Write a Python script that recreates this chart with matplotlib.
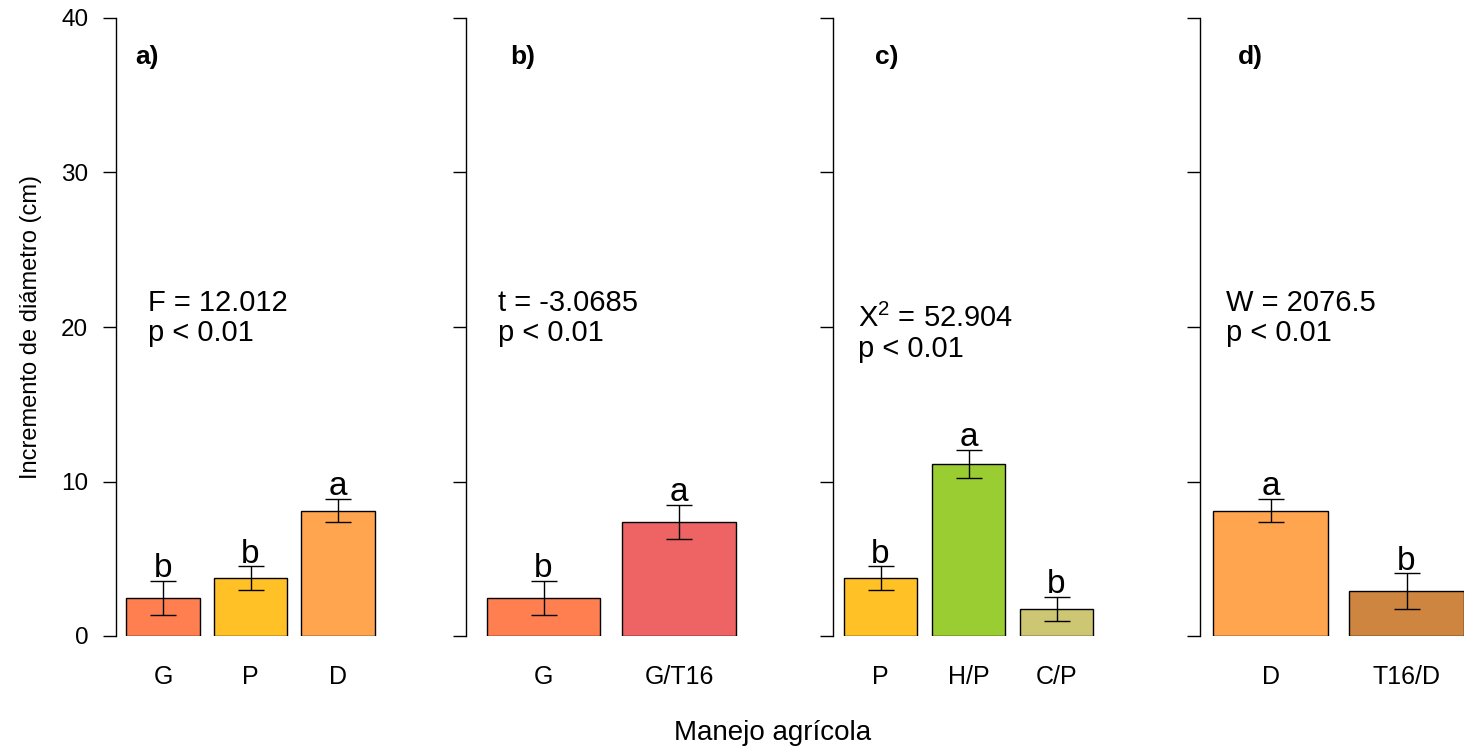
import matplotlib
matplotlib.use("Agg")
import matplotlib.pyplot as plt

plt.rcParams['font.family'] = ['Liberation Sans', 'DejaVu Sans']

# datos por panel
panel_tags = ['a)', 'b)', 'c)', 'd)']
cats_a = ['G', 'P', 'D']
cats_b = ['G', 'G/T16']
cats_c = ['P', 'H/P', 'C/P']
cats_d = ['D', 'T16/D']
means_a = [2.45, 3.75, 8.1]
means_b = [2.45, 7.38]
means_c = [3.75, 11.13, 1.75]
means_d = [8.1, 2.9]
se_a = [1.1, 0.75, 0.75]
se_b = [1.1, 1.13]
se_c = [0.75, 0.9, 0.75]
se_d = [0.75, 1.15]
letters_a = ['b', 'b', 'a']
letters_b = ['b', 'a']
letters_c = ['b', 'a', 'b']
letters_d = ['a', 'b']
stats_txt = ['F = 12.012\np < 0.01', 't = -3.0685\np < 0.01',
             r'$\mathregular{X^2}$ = 52.904' + '\np < 0.01', 'W = 2076.5\np < 0.01']
colors_a = ['#FF7F50', '#FFC125', '#FFA54F']
colors_b = ['#FF7F50', '#EE6363']
colors_c = ['#FFC125', '#9ACD32', '#CDC673']
colors_d = ['#FFA54F', '#CD853F']

W, H = 1464, 748
fig = plt.figure(figsize=(W / 100, H / 100), dpi=100)

# bordes del eje en pixeles, primer centro y paso entre barras
boxes = [(116, 385), (466, 756), (833, 1104), (1200, 1464)]
geo = [(163, 87.5), (543.5, 135.5), (880.5, 88.0), (1270.5, 136.0)]
tag_off = [19, 44, 42, 38]
stat_off = [32, 32, 25, 26]
stat_y = [20.6, 20.6, 19.6, 20.6]

panels = [(cats_a, means_a, se_a, letters_a, colors_a),
          (cats_b, means_b, se_b, letters_b, colors_b),
          (cats_c, means_c, se_c, letters_c, colors_c),
          (cats_d, means_d, se_d, letters_d, colors_d)]

top, bottom = 18, 636
for i, (cats, means, se, lets, cols) in enumerate(panels):
    x0, x1 = boxes[i]
    ax = fig.add_axes([x0 / W, 1 - bottom / H, (x1 - x0) / W, (bottom - top) / H])
    c0, step = geo[i]
    pos = list(range(len(cats)))
    ax.bar(pos, means, width=0.84, color=cols, edgecolor='black', linewidth=1.0)
    ax.errorbar(pos, means, yerr=se, fmt='none', ecolor='black', elinewidth=1.0,
                capsize=9.7, capthick=1.0, clip_on=False)
    for p, m, s, l in zip(pos, means, se, lets):
        ax.text(p, m + s - 0.2, l, ha='center', va='bottom', fontsize=24)
    ax.set_xlim((x0 - c0) / step, (x1 - c0) / step)
    ax.set_ylim(0, 40)
    ax.set_xticks(pos)
    ax.set_xticklabels(cats, fontsize=18)
    ax.tick_params(axis='x', length=0, pad=21)
    ax.set_yticks([0, 10, 20, 30, 40])
    ax.tick_params(axis='y', length=9.4, width=1.0, pad=10.5, labelsize=17.5)
    if i > 0:
        ax.set_yticklabels([])
    for s in ['top', 'right', 'bottom']:
        ax.spines[s].set_visible(False)
    ax.spines['left'].set_linewidth(1.0)
    ax.patch.set_alpha(0)
    ax.text(tag_off[i] / (x1 - x0), 1 - (57 - top) / (bottom - top), panel_tags[i],
            transform=ax.transAxes, fontsize=19, fontweight='bold',
            va='center', ha='left')
    ax.text(stat_off[i] / (x1 - x0), stat_y[i], stats_txt[i], fontsize=21,
            va='center', ha='left', transform=ax.get_yaxis_transform(),
            linespacing=1.1)
    if i == 0:
        ax.set_ylabel('Incremento de diámetro (cm)', fontsize=17, labelpad=14)

fig.text(773 / W, 1 - 733 / H, 'Manejo agrícola', ha='center', va='center', fontsize=20)

fig.savefig('out.png', dpi=100)
